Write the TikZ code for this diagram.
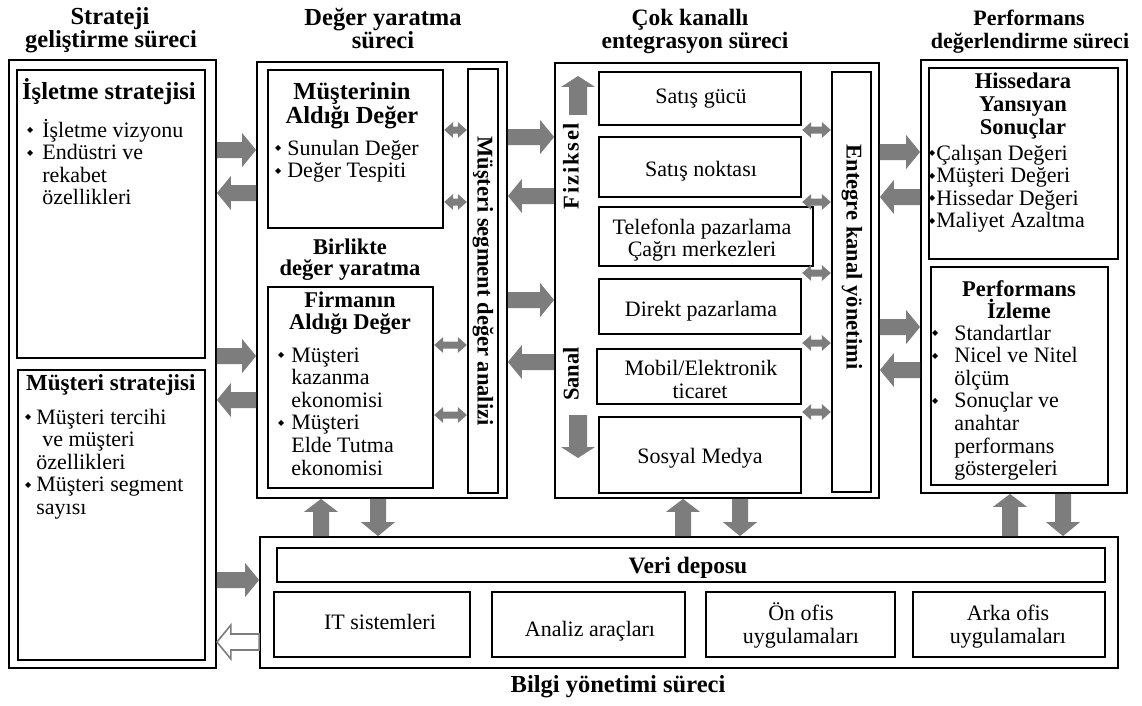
\documentclass[tikz,border=0pt]{standalone}
\usepackage{fontspec}
\setmainfont{Liberation Serif}
\newfontfamily\dvs{DejaVu Sans}
\usetikzlibrary{calc,fit}
\definecolor{ag}{RGB}{125,125,125}
\newcommand\bul{\raisebox{4.5pt}{\dvs\fontsize{8}{8}\selectfont ◆}}
\newcommand\blist[2]{\begin{tabular}[t]{@{}l@{\hspace{#1}}l@{}}#2\end{tabular}}
% fat arrow: [style]{from}{to}{half shaft}{half head}{head length}
\newcommand\fatar[6][fill=ag]{%
  \coordinate (faA) at (#2);
  \coordinate (faB) at (#3);
  \coordinate (faH) at ($(faB)!#6!(faA)$);
  \path[#1] ($(faA)!#4!90:(faB)$) -- ($(faH)!#4!90:(faB)$) -- ($(faH)!#5!90:(faB)$) -- (faB) -- ($(faH)!#5!-90:(faB)$) -- ($(faH)!#4!-90:(faB)$) -- ($(faA)!#4!-90:(faB)$) -- cycle;}
% small double arrow
\newcommand\dblar[2]{%
  \coordinate (daA) at (#1);
  \coordinate (daB) at (#2);
  \coordinate (daP) at ($(daA)!9pt!(daB)$);
  \coordinate (daQ) at ($(daB)!9pt!(daA)$);
  \fill[ag] (daA) -- ($(daP)!8pt!90:(daB)$) -- ($(daP)!3.5pt!90:(daB)$) -- ($(daQ)!3.5pt!-90:(daA)$) -- ($(daQ)!8pt!-90:(daA)$) -- (daB) -- ($(daQ)!8pt!90:(daA)$) -- ($(daQ)!3.5pt!90:(daA)$) -- ($(daP)!3.5pt!-90:(daB)$) -- ($(daP)!8pt!-90:(daB)$) -- cycle;}
\begin{document}
\begin{tikzpicture}[x=1pt,y=-1pt,
  ob/.style={draw, line width=1.8pt, inner sep=0pt},
  ib/.style={draw, line width=2.4pt, inner sep=0pt},
  tl/.style={anchor=base, inner sep=0pt, font=\fontsize{24.5}{27}\selectfont\bfseries},
  hb/.style={anchor=base, inner sep=0pt, font=\fontsize{22.5}{24}\selectfont\bfseries},
  hbig/.style={anchor=base, inner sep=0pt, font=\fontsize{24.5}{24}\selectfont\bfseries},
  hl/.style={anchor=base west, inner sep=0pt, font=\fontsize{23}{24}\selectfont\bfseries},
  bl/.style={anchor=base west, inner sep=0pt, font=\fontsize{22}{22.6}\selectfont},
  tx/.style={anchor=base, inner sep=0pt, font=\fontsize{22}{24}\selectfont},
  vt/.style={inner sep=0pt, font=\fontsize{22.5}{24}\selectfont\bfseries},
  hollow/.style={draw=ag, fill=white, line width=1.6pt}]
\fill[white] (0,0) rectangle (1142,706);
\useasboundingbox (0,0) rectangle (1142,706);

% ---------- titles
\node[tl] at (110,25) {Strateji};
\node[tl] at (111,48) {geliştirme süreci};
\node[tl] at (383,26) {Değer yaratma};
\node[tl] at (383,49) {süreci};
\node[tl, font=\fontsize{23.5}{27}\selectfont\bfseries] at (690,26) {Çok kanallı};
\node[tl, font=\fontsize{23.5}{27}\selectfont\bfseries] at (695,49) {entegrasyon süreci};
\node[tl, font=\fontsize{22}{27}\selectfont\bfseries] at (1029,26) {Performans};
\node[tl, font=\fontsize{22}{27}\selectfont\bfseries] at (1030,49) {değerlendirme süreci};
\node[tl] at (618,692) {Bilgi yönetimi süreci};

% ---------- boxes
\node[ob, fit={(9,60) (216,668)}] (sc) {};
\node[ib, fit={(17,70) (205,358)}] (is) {};
\node[ib, fit={(18,370) (205,660)}] (ms) {};

\node[ob, fit={(257,62) (507,498)}] (dy) {};
\node[ib, fit={(268,70) (443,228)}] (mad) {};
\node[ib, fit={(268,287) (433,488)}] (fad) {};
\node[ib, fit={(468,69) (498,493)}] (msda) {};

\node[ob, fit={(555,63) (879,498)}] (ck) {};
\node[ib, fit={(599,72) (801,125)}] (c1) {};
\node[ib, fit={(599,137) (801,197)}] (c2) {};
\node[ib, fit={(599,207) (813,266)}] (c3) {};
\node[ib, fit={(599,279) (801,334)}] (c4) {};
\node[ib, fit={(597,349) (801,404)}] (c5) {};
\node[ib, fit={(599,417) (801,493)}] (c6) {};
\node[ib, fit={(832,72) (871,492)}] (eky) {};

\node[ob, fit={(921,60) (1127,493)}] (pd) {};
\node[ib, fit={(929,68) (1118,259)}] (hy) {};
\node[ib, fit={(931,267) (1108,485)}] (pi) {};

\node[ob, fit={(260,537) (1118,668)}] (bi) {};
\node[ib, fit={(277,548) (1105,582)}] (vd) {};
\node[ib, fit={(274,592) (470,657)}] (it) {};
\node[ib, fit={(492,592) (685,657)}] (aa) {};
\node[ib, fit={(706,592) (895,657)}] (oo) {};
\node[ib, fit={(913,592) (1105,657)}] (ao) {};

% ---------- texts: strategy
\node[hl, font=\fontsize{24.5}{24}\selectfont\bfseries] at (22,100) {İşletme stratejisi};
\node[bl] at (27,137) {\blist{9pt}{\bul&İşletme vizyonu\\\bul&Endüstri ve\\&rekabet\\&özellikleri}};
\node[hl] at (26,390) {Müşteri stratejisi};
\node[bl] at (25,424) {\blist{5pt}{\bul&Müşteri tercihi\\&\hspace{6pt}ve müşteri\\&özellikleri\\\bul&Müşteri segment\\&sayısı}};

% ---------- texts: value creation
\node[hbig] at (352,100) {Müşterinin};
\node[hbig] at (352,124) {Aldığı Değer};
\node[bl] at (275,155) {\blist{6pt}{\bul&Sunulan Değer\\\bul&Değer Tespiti}};
\node[hb] at (350,254) {Birlikte};
\node[hb] at (350,275) {değer yaratma};
\node[hb] at (350,307) {Firmanın};
\node[hb] at (350,329) {Aldığı Değer};
\node[bl] at (278,362) {\blist{7pt}{\bul&Müşteri\\&kazanma\\&ekonomisi\\\bul&Müşteri\\&Elde Tutma\\&ekonomisi}};
\node[vt, rotate=-90] at (msda.center) {Müşteri segment değer analizi};

% ---------- texts: channels
\node[tx] at (701,103) {Satış gücü};
\node[tx] at (701,176) {Satış noktası};
\node[tx] at (702,234) {Telefonla pazarlama};
\node[tx] at (702,256) {Çağrı merkezleri};
\node[tx] at (701,316) {Direkt pazarlama};
\node[tx] at (701,375) {Mobil/Elektronik};
\node[tx] at (700,398) {ticaret};
\node[tx] at (700,463) {Sosyal Medya};
\node[vt, rotate=-90] at (852,257) {Entegre kanal yönetimi};
\node[vt, rotate=90] at (571,166) {\addfontfeatures{LetterSpace=8}Fiziksel};
\node[vt, rotate=90] at (571,374) {Sanal};

% ---------- texts: performance
\node[hb] at (1023,89) {Hissedara};
\node[hb] at (1023,111) {Yansıyan};
\node[hb] at (1023,134) {Sonuçlar};
\node[bl] at (929,160) {\blist{1pt}{\bul&Çalışan Değeri\\\bul&Müşteri Değeri\\\bul&Hissedar Değeri\\\bul&Maliyet Azaltma}};
\node[hb] at (1019,296) {Performans};
\node[hb] at (1019,318) {İzleme};
\node[bl] at (932,340) {\blist{16pt}{\bul&Standartlar\\\bul&Nicel ve Nitel\\&ölçüm\\\bul&Sonuçlar ve\\&anahtar\\&performans\\&göstergeleri}};

% ---------- texts: information
\node[hb, font=\fontsize{23.5}{24}\selectfont\bfseries] at (688,573) {Veri deposu};
\node[tx] at (380,629) {IT sistemleri};
\node[tx] at (590,636) {Analiz araçları};
\node[tx] at (801,620) {Ön ofis};
\node[tx] at (801,643) {uygulamaları};
\node[tx] at (1008,620) {Arka ofis};
\node[tx] at (1008,643) {uygulamaları};

% ---------- big arrows
\fatar{sc.east |- 0,150}{dy.west |- 0,150}{8pt}{17pt}{14pt}
\fatar{dy.west |- 0,193}{sc.east |- 0,193}{8pt}{17pt}{14pt}
\fatar{sc.east |- 0,356}{dy.west |- 0,356}{8pt}{17pt}{14pt}
\fatar{dy.west |- 0,400}{sc.east |- 0,400}{8pt}{17pt}{14pt}
\fatar{sc.east |- 0,580}{bi.west |- 0,580}{8pt}{17pt}{14pt}
\fatar[hollow]{bi.west |- 0,642}{sc.east |- 0,642}{8pt}{17pt}{14pt}

\fatar{dy.east |- 0,137}{ck.west |- 0,137}{8pt}{17pt}{14pt}
\fatar{ck.west |- 0,196}{dy.east |- 0,196}{8pt}{17pt}{14pt}
\fatar{dy.east |- 0,300}{ck.west |- 0,300}{8pt}{17pt}{14pt}
\fatar{ck.west |- 0,362}{dy.east |- 0,362}{8pt}{17pt}{14pt}

\fatar{ck.east |- 0,152}{pd.west |- 0,152}{8pt}{17pt}{14pt}
\fatar{pd.west |- 0,197}{ck.east |- 0,197}{8pt}{17pt}{14pt}
\fatar{ck.east |- 0,327}{pd.west |- 0,327}{8pt}{17pt}{14pt}
\fatar{pd.west |- 0,370}{ck.east |- 0,370}{8pt}{17pt}{14pt}

\fatar{bi.north -| 321,0}{dy.south -| 321,0}{8pt}{17pt}{13pt}
\fatar{dy.south -| 378,0}{bi.north -| 378,0}{8pt}{17pt}{14pt}
\fatar{bi.north -| 683,0}{ck.south -| 683,0}{8pt}{17pt}{13pt}
\fatar{ck.south -| 740,0}{bi.north -| 740,0}{8pt}{17pt}{14pt}
\fatar{bi.north -| 1010,0}{pd.south -| 1010,0}{8pt}{17pt}{13pt}
\fatar{pd.south -| 1063,0}{bi.north -| 1063,0}{8pt}{17pt}{14pt}

\coordinate (fz1) at (578,115);
\coordinate (fz2) at (578,76);
\coordinate (sn1) at (578,415);
\coordinate (sn2) at (578,458);
\fatar{fz1}{fz2}{9pt}{17pt}{11pt}
\fatar{sn1}{sn2}{9pt}{17pt}{11pt}

% ---------- small double arrows
\dblar{mad.east |- 0,130}{msda.west |- 0,130}
\dblar{mad.east |- 0,202}{msda.west |- 0,202}
\dblar{fad.east |- 0,345}{msda.west |- 0,345}
\dblar{fad.east |- 0,415}{msda.west |- 0,415}
\dblar{c1.east |- 0,130}{eky.west |- 0,130}
\dblar{c2.east |- 0,202}{eky.west |- 0,202}
\dblar{c4.east |- 0,273}{eky.west |- 0,273}
\dblar{c4.east |- 0,343}{eky.west |- 0,343}
\dblar{c5.east |- 0,412}{eky.west |- 0,412}
\end{tikzpicture}
\end{document}
